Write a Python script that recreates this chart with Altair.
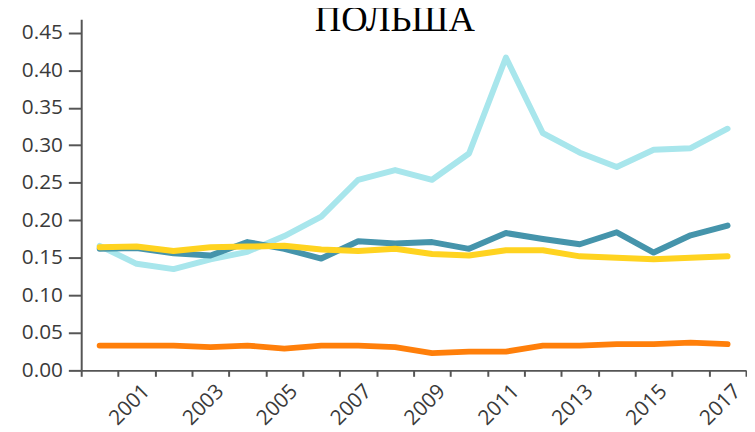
import altair as alt
import pandas as pd

years = list(range(2000, 2018))
light_blue = [0.166, 0.142, 0.135, 0.148, 0.158, 0.179, 0.205, 0.254, 0.267, 0.254,
              0.289, 0.417, 0.316, 0.290, 0.271, 0.294, 0.296, 0.322]
teal = [0.162, 0.163, 0.156, 0.153, 0.171, 0.162, 0.149, 0.172, 0.169, 0.171,
        0.162, 0.183, 0.175, 0.168, 0.184, 0.157, 0.180, 0.193]
yellow = [0.164, 0.165, 0.159, 0.164, 0.165, 0.166, 0.161, 0.159, 0.162, 0.155,
          0.153, 0.160, 0.160, 0.152, 0.150, 0.148, 0.150, 0.152]
orange = [0.033, 0.033, 0.033, 0.031, 0.033, 0.029, 0.033, 0.033, 0.031, 0.023,
          0.025, 0.025, 0.033, 0.033, 0.035, 0.035, 0.037, 0.035]

series = [("s1", light_blue, "#a8e6ec"),
          ("s2", teal, "#4594ab"),
          ("s3", yellow, "#ffd320"),
          ("s4", orange, "#ff7f0a")]

y_ticks = [0.0, 0.05, 0.10, 0.15, 0.20, 0.25, 0.30, 0.35, 0.40, 0.45]

x_enc = alt.X(
    "year:O",
    bandPosition=0.5,
    scale=alt.Scale(type="band", paddingInner=0, paddingOuter=0),
    axis=alt.Axis(
        title=None,
        tickBand="extent",
        labelAngle=-45,
        labelAlign="right",
        labelBaseline="top",
        labelOffset=2,
        labelPadding=4,
        labelExpr="datum.value % 2 == 1 ? datum.label : ''",
        tickSize=6,
    ),
)
y_enc = alt.Y(
    "value:Q",
    scale=alt.Scale(domain=[0, 0.468], nice=False, zero=True),
    axis=alt.Axis(title=None, values=y_ticks, format=".2f", tickSize=13,
                  labelPadding=6, grid=False),
)

layers = []
for name, vals, col in series:
    df = pd.DataFrame({"year": years, "value": vals, "series": name})
    layers.append(
        alt.Chart(df).mark_line(strokeWidth=6, strokeCap="round", strokeJoin="round",
                                color=col).encode(x=x_enc, y=y_enc)
    )

chart = alt.layer(*layers).properties(
    width=672,
    height=355,
    title=alt.TitleParams("ПОЛЬША", font="Liberation Serif", fontSize=37,
                          fontWeight="normal", color="#000000", anchor="middle",
                          frame="group", offset=-20, dx=-19),
    autosize=alt.AutoSizeParams(type="none"),
    padding={"left": 74, "top": 9, "right": 1, "bottom": 60},
).configure_view(strokeWidth=0).configure_axis(
    labelFont="Open Sans",
    labelFontSize=21,
    labelColor="#3a3a3a",
    domainColor="#555555",
    domainWidth=2,
    tickColor="#555555",
    tickWidth=2,
)

chart.save("out.html", embed_options={"renderer": "svg", "actions": False})
